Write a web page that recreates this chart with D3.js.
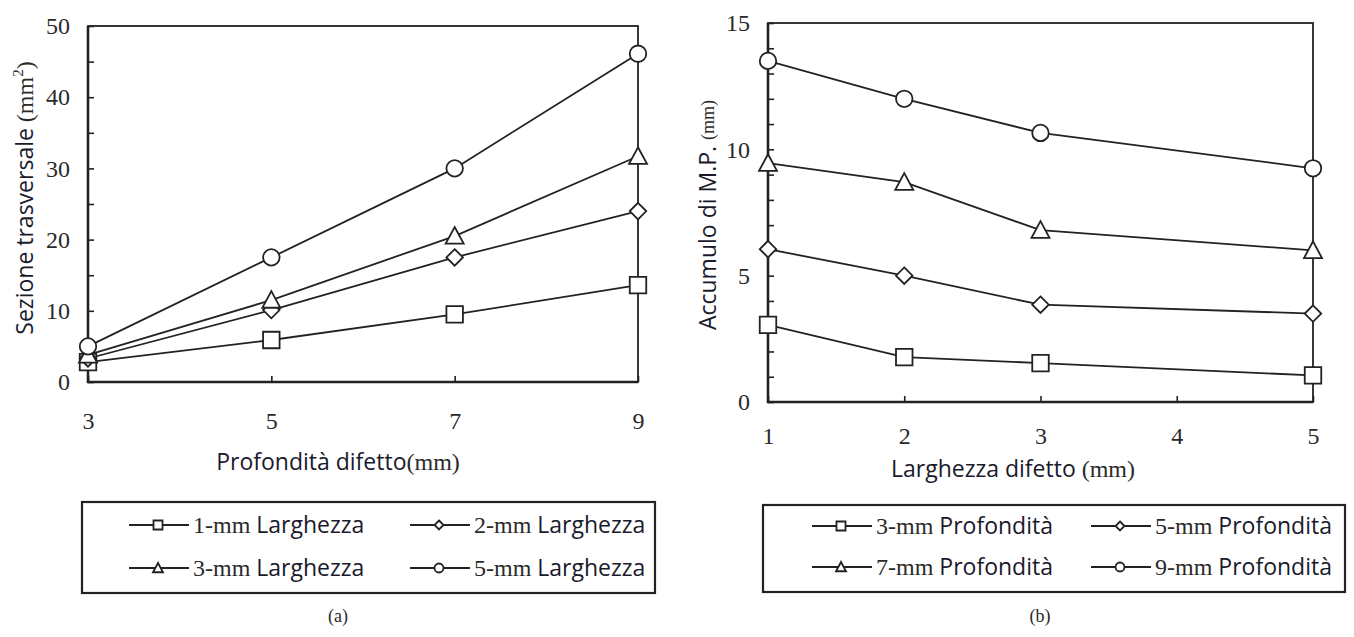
<!DOCTYPE html>
<html>
<head>
<meta charset="utf-8">
<script src="https://cdn.jsdelivr.net/npm/d3@7"></script>
<style>
  body { margin: 0; background: #fff; }
  .serif { font-family: "Liberation Serif", "Times New Roman", serif; fill: #2a2a2a; }
  .sans { font-family: "Open Sans", "Noto Sans", sans-serif; fill: #1a1a2c; }
</style>
</head>
<body>
<div id="chart"></div>
<script>
// panel (a): cross section vs defect depth
var depthX = [3, 5, 7, 9];
var width1mm = [2.8, 5.9, 9.5, 13.6];
var width2mm = [3.3, 10.1, 17.5, 24.0];
var width3mm = [3.8, 11.5, 20.5, 31.7];
var width5mm = [5.0, 17.5, 30.0, 46.1];
var legendA = ["1-mm", "2-mm", "3-mm", "5-mm"];

// panel (b): M.P. accumulation vs defect width
var widthX = [1, 2, 3, 5];
var depth3mm = [3.05, 1.78, 1.54, 1.05];
var depth5mm = [6.05, 5.0, 3.85, 3.5];
var depth7mm = [9.45, 8.7, 6.8, 6.0];
var depth9mm = [13.5, 12.0, 10.65, 9.25];
var legendB = ["3-mm", "5-mm", "7-mm", "9-mm"];

var markers = ["square", "diamond", "triangle", "circle"];

var svg = d3.select("#chart").append("svg")
  .attr("width", 1354)
  .attr("height", 637);

function markerPath(type, s) {
  var h = s / 2;
  if (type === "square") return `M${-h},${-h}H${h}V${h}H${-h}Z`;
  if (type === "diamond") return `M0,${-h}L${h},0L0,${h}L${-h},0Z`;
  if (type === "triangle") return `M0,${-h}L${h},${h * 0.85}L${-h},${h * 0.85}Z`;
  return d3.arc()({ innerRadius: 0, outerRadius: h, startAngle: 0, endAngle: 2 * Math.PI });
}

function drawPanel(p) {
  var x = d3.scaleLinear().domain(p.xDomain).range([p.left, p.right]);
  var y = d3.scaleLinear().domain(p.yDomain).range([p.bottom, p.top]);
  var g = svg.append("g");

  // y axis, inward ticks
  var yAxis = d3.axisLeft(y)
    .tickValues(p.yTicks)
    .tickSize(-6)
    .tickPadding(18)
    .tickFormat(d => p.yLabels.indexOf(d) >= 0 ? d : "");
  var ya = g.append("g").attr("transform", `translate(${p.left},0)`).call(yAxis);
  ya.select(".domain").remove();
  ya.selectAll("line").attr("stroke", "#222").attr("stroke-width", 1.6);
  ya.selectAll("text").attr("class", "serif").style("font-size", "24px").attr("fill", null);

  var xAxis = d3.axisBottom(x)
    .tickValues(p.xTicks)
    .tickSize(-6)
    .tickPadding(p.xPad)
    .tickFormat(d => p.xLabels.indexOf(d) >= 0 ? d : "");
  var xa = g.append("g").attr("transform", `translate(0,${p.bottom})`).call(xAxis);
  xa.select(".domain").remove();
  xa.selectAll("line").attr("stroke", "#222").attr("stroke-width", 1.6);
  xa.selectAll("text").attr("class", "serif").style("font-size", "24px").attr("fill", null);

  // frame
  g.append("rect")
    .attr("x", p.left).attr("y", p.top)
    .attr("width", p.right - p.left).attr("height", p.bottom - p.top)
    .attr("fill", "none").attr("stroke", "#222").attr("stroke-width", 1.8);
  g.append("path")
    .attr("d", `M${p.left},${p.top}V${p.bottom}H${p.right}`)
    .attr("fill", "none").attr("stroke", "#222").attr("stroke-width", 2.6);

  var line = d3.line().x((d, i) => x(p.xs[i])).y(d => y(d));
  p.series.forEach(function(vals, k) {
    g.append("path").datum(vals)
      .attr("d", line)
      .attr("fill", "none").attr("stroke", "#222").attr("stroke-width", 1.8);
  });
  p.series.forEach(function(vals, k) {
    g.selectAll(null).data(vals).enter().append("path")
      .attr("d", markerPath(markers[k], k === 2 ? 18 : 16.5))
      .attr("transform", (d, i) => `translate(${x(p.xs[i])},${y(d)})`)
      .attr("fill", "#fff").attr("stroke", "#222").attr("stroke-width", 1.8);
  });

  // axis titles
  var xt = g.append("text")
    .attr("x", p.xTitle[0]).attr("y", p.xTitle[1])
    .attr("text-anchor", "middle");
  xt.append("tspan").attr("class", "sans").style("font-size", "23px").text(p.xTitleText);
  xt.append("tspan").attr("class", "serif").style("font-size", "24px").text("(mm)");

  var yt = g.append("text")
    .attr("transform", `translate(${p.yTitle[0]},${p.yTitle[1]}) rotate(-90)`)
    .attr("text-anchor", "middle");
  yt.append("tspan").attr("class", "sans").style("font-size", "23px").text(p.yTitleText);
  if (p.sup) {
    yt.append("tspan").attr("class", "serif").style("font-size", "24px").text("(mm");
    yt.append("tspan").attr("class", "serif").style("font-size", "15px").attr("dy", -10).text("2");
    yt.append("tspan").attr("class", "serif").style("font-size", "24px").attr("dy", 10).text(")");
  } else {
    yt.append("tspan").attr("class", "serif").style("font-size", "18px").attr("dy", -2).text("(mm)");
  }

  // legend
  var lb = p.legendBox;
  g.append("rect")
    .attr("x", lb[0]).attr("y", lb[1]).attr("width", lb[2] - lb[0]).attr("height", lb[3] - lb[1])
    .attr("fill", "none").attr("stroke", "#222").attr("stroke-width", 2.2);
  p.legendNames.forEach(function(name, k) {
    var col = k % 2, row = Math.floor(k / 2);
    var lx = p.legendCols[col], ly = p.legendRows[row];
    g.append("line")
      .attr("x1", lx).attr("x2", lx + 60).attr("y1", ly).attr("y2", ly)
      .attr("stroke", "#222").attr("stroke-width", 1.8);
    g.append("path")
      .attr("d", markerPath(markers[k], k === 2 ? 10 : 9))
      .attr("transform", `translate(${lx + 29},${ly})`)
      .attr("fill", "#fff").attr("stroke", "#222").attr("stroke-width", 1.8);
    var t = g.append("text").attr("x", lx + 64).attr("y", ly + 8);
    t.append("tspan").attr("class", "serif").style("font-size", "24px").text(name + " ");
    t.append("tspan").attr("class", "sans").style("font-size", "23px").text(p.legendWord);
  });

  g.append("text").attr("class", "serif")
    .attr("x", p.caption[0]).attr("y", p.caption[1])
    .attr("text-anchor", "middle").style("font-size", "18px")
    .text(p.captionText);
}

drawPanel({
  left: 88, right: 638, top: 26, bottom: 382,
  xDomain: [3, 9], yDomain: [0, 50],
  xTicks: [3, 5, 7, 9], xLabels: [3, 5, 7, 9], xPad: 30,
  yTicks: d3.range(0, 51, 5), yLabels: [0, 10, 20, 30, 40, 50],
  xs: depthX, series: [width1mm, width2mm, width3mm, width5mm],
  xTitle: [338, 470], xTitleText: "Profondità difetto",
  yTitle: [33, 198], yTitleText: "Sezione trasversale  ", sup: true,
  legendBox: [82, 502, 655, 593], legendCols: [129, 410], legendRows: [525, 568],
  legendNames: legendA, legendWord: "Larghezza",
  caption: [338, 622], captionText: "(a)"
});

drawPanel({
  left: 768, right: 1313, top: 23, bottom: 402,
  xDomain: [1, 5], yDomain: [0, 15],
  xTicks: [1, 2, 3, 4, 5], xLabels: [1, 2, 3, 4, 5], xPad: 25,
  yTicks: d3.range(0, 16, 1), yLabels: [0, 5, 10, 15],
  xs: widthX, series: [depth3mm, depth5mm, depth7mm, depth9mm],
  xTitle: [1013, 477], xTitleText: "Larghezza difetto ",
  yTitle: [716, 215], yTitleText: "Accumulo di M.P. ", sup: false,
  legendBox: [763, 505, 1345, 592], legendCols: [812, 1091], legendRows: [526, 567],
  legendNames: legendB, legendWord: "Profondità",
  caption: [1040, 622], captionText: "(b)"
});
</script>
</body>
</html>
